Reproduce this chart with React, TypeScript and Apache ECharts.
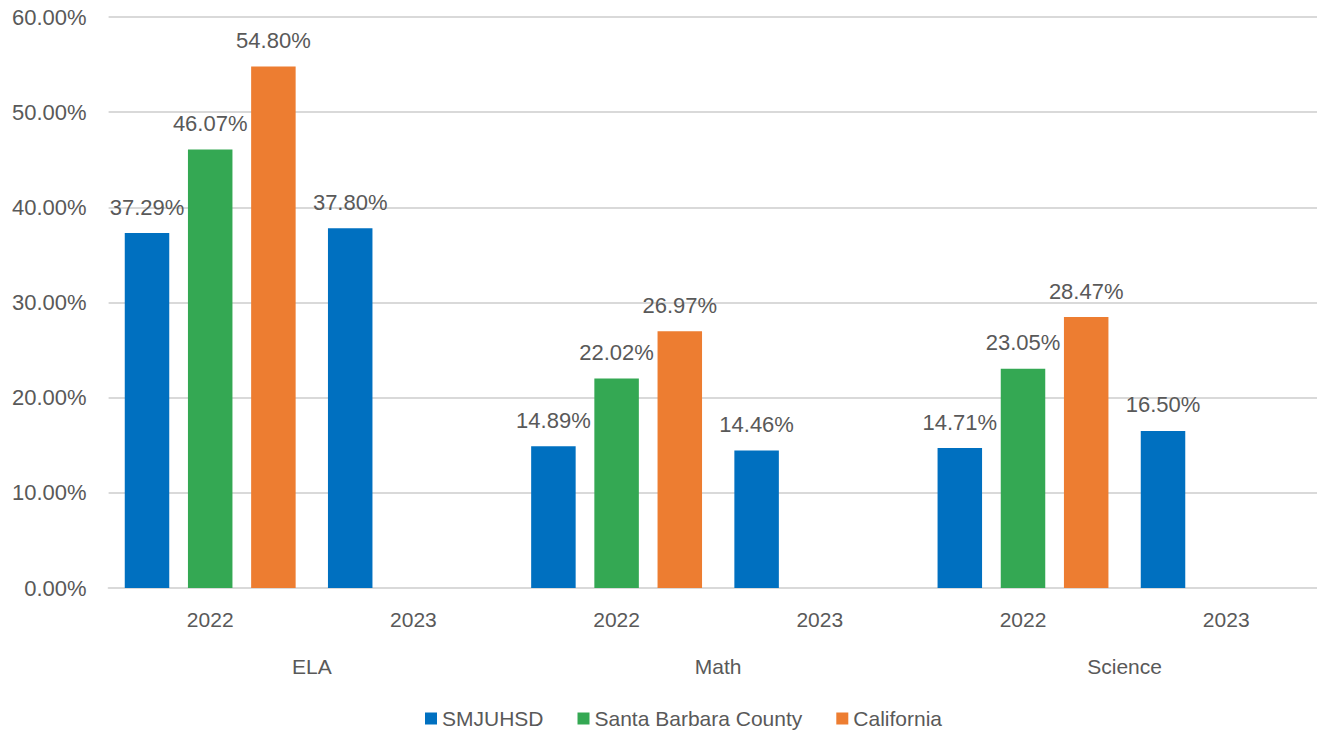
import React, { useEffect, useRef } from "react";
import * as echarts from "echarts";

const years = ["2022", "2023", "2022", "2023", "2022", "2023"];
const subjects = ["ELA", "Math", "Science"];
const smjuhsd = [37.29, 37.8, 14.89, 14.46, 14.71, 16.5];
const sbCounty = [46.07, null, 22.02, null, 23.05, null];
const california = [54.8, null, 26.97, null, 28.47, null];
const yTicks = { min: 0, max: 60, interval: 10 };

const FONT = "Liberation Sans";
const TXT = "#595959";
const FS = 22;

export default function App() {
  const ref = useRef<HTMLDivElement>(null);
  useEffect(() => {
    const chart = echarts.init(ref.current!, null, { renderer: "svg" });
    const label = {
      show: true,
      position: "top",
      distance: 15,
      fontFamily: FONT,
      fontSize: FS,
      color: TXT,
      formatter: (p: any) => Number(p.value).toFixed(2) + "%",
    };
    const mk = (name: string, data: any[], color: string) => ({
      name,
      type: "bar",
      data,
      barWidth: 44.5,
      barGap: "42%",
      itemStyle: { color },
      label,
    });
    chart.setOption({
      animation: false,
      textStyle: { fontFamily: FONT },
      grid: { left: 108.6, right: 12.2, top: 17, bottom: 144, containLabel: false },
      legend: {
        left: 420,
        top: 703,
        icon: "rect",
        itemWidth: 12,
        itemHeight: 12,
        itemGap: 34,
        itemTextGap: 6,
        textStyle: { fontFamily: FONT, fontSize: FS - 1, color: TXT },
        data: ["SMJUHSD", "Santa Barbara County", "California"],
      },
      xAxis: [
        {
          type: "category",
          data: years,
          axisTick: { show: false },
          axisLine: { show: true, lineStyle: { color: "#d9d9d9", width: 2 } },
          axisLabel: { fontFamily: FONT, fontSize: FS - 1, color: TXT, margin: 21 },
        },
        {
          type: "category",
          data: subjects,
          position: "bottom",
          offset: 50,
          axisTick: { show: false },
          axisLine: { show: false },
          axisLabel: { fontFamily: FONT, fontSize: FS - 1, color: TXT, margin: 18 },
        },
      ],
      yAxis: {
        type: "value",
        min: yTicks.min,
        max: yTicks.max,
        interval: yTicks.interval,
        axisLine: { show: false },
        axisTick: { show: false },
        splitLine: { lineStyle: { color: "#d9d9d9", width: 2 } },
        axisLabel: {
          fontFamily: FONT,
          fontSize: FS,
          color: TXT,
          margin: 22,
          formatter: (v: number) => v.toFixed(2) + "%",
        },
      },
      series: [
        mk("SMJUHSD", smjuhsd, "#0070C0"),
        mk("Santa Barbara County", sbCounty, "#34A853"),
        mk("California", california, "#ED7D31"),
      ],
    });
    return () => chart.dispose();
  }, []);
  return (
    <div
      style={{ position: "fixed", left: 0, top: 0, width: 1317, height: 732, background: "#fff", overflow: "hidden" }}
    >
      <div ref={ref} style={{ width: 1340, height: 732 }} />
    </div>
  );
}
